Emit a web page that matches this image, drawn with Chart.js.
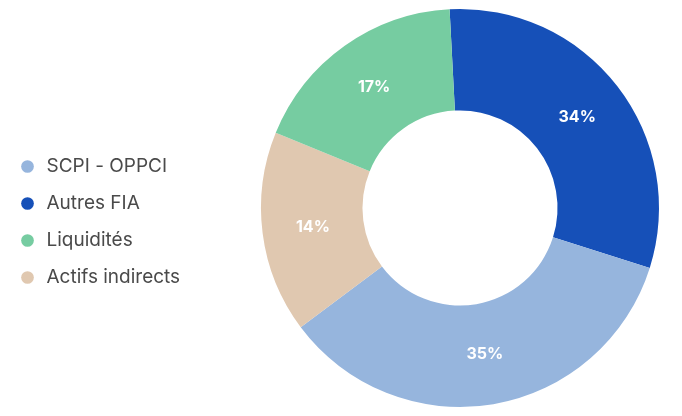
<!DOCTYPE html>
<html>
<head>
<meta charset="utf-8">
<script src="https://cdn.jsdelivr.net/npm/chart.js@4"></script>
<style>
  html, body { margin: 0; padding: 0; background: #fff; }
  #wrap { width: 682px; height: 416px; position: relative; }
</style>
</head>
<body>
<div id="wrap"><canvas id="chart"></canvas></div>
<script>
// slices in clockwise order from the top
const categories = ["Autres FIA", "SCPI - OPPCI", "Actifs indirects", "Liquidités"];
const shares = [30.7, 34.9, 16.4, 18.0];
const shareLabels = ["34%", "35%", "14%", "17%"];
const legendOrder = ["SCPI - OPPCI", "Autres FIA", "Liquidités", "Actifs indirects"];
const colors = ["#1650b8", "#96b5dd", "#e0c8b0", "#76cca1"];

Chart.defaults.font.family = "Inter";

const sliceLabels = {
  id: "sliceLabels",
  afterDatasetsDraw(chart) {
    const { ctx } = chart;
    const meta = chart.getDatasetMeta(0);
    ctx.save();
    ctx.font = "700 16px Inter";
    ctx.fillStyle = "#ffffff";
    ctx.textAlign = "center";
    ctx.textBaseline = "middle";
    meta.data.forEach((arc, i) => {
      const { x, y } = arc.tooltipPosition();
      ctx.fillText(shareLabels[i], x, y);
    });
    ctx.restore();
  },
};

// wider legend column, nudged a bit below the middle
const legendBox = {
  id: "legendBox",
  beforeInit(chart) {
    const fit = chart.legend.fit;
    chart.legend.fit = function () {
      fit.call(this);
      this.width = 261;
    };
  },
  afterLayout(chart) {
    chart.legend.top += 14;
    chart.legend.bottom += 14;
  },
};

new Chart(document.getElementById("chart"), {
  type: "doughnut",
  data: {
    labels: categories,
    datasets: [{
      data: shares,
      backgroundColor: colors,
      borderWidth: 0,
    }],
  },
  options: {
    responsive: true,
    maintainAspectRatio: false,
    animation: false,
    rotation: -3,
    cutout: "49%",
    layout: { padding: { right: 23 } },
    plugins: {
      tooltip: { enabled: false },
      legend: {
        position: "left",
        labels: {
          sort: (a, b) => legendOrder.indexOf(a.text) - legendOrder.indexOf(b.text),
          usePointStyle: true,
          pointStyle: "circle",
          boxWidth: 19,
          boxHeight: 9,
          padding: 18,
          color: "#4a4a4a",
          font: { family: "Inter", size: 19 },
        },
      },
    },
  },
  plugins: [sliceLabels, legendBox],
});
</script>
</body>
</html>
